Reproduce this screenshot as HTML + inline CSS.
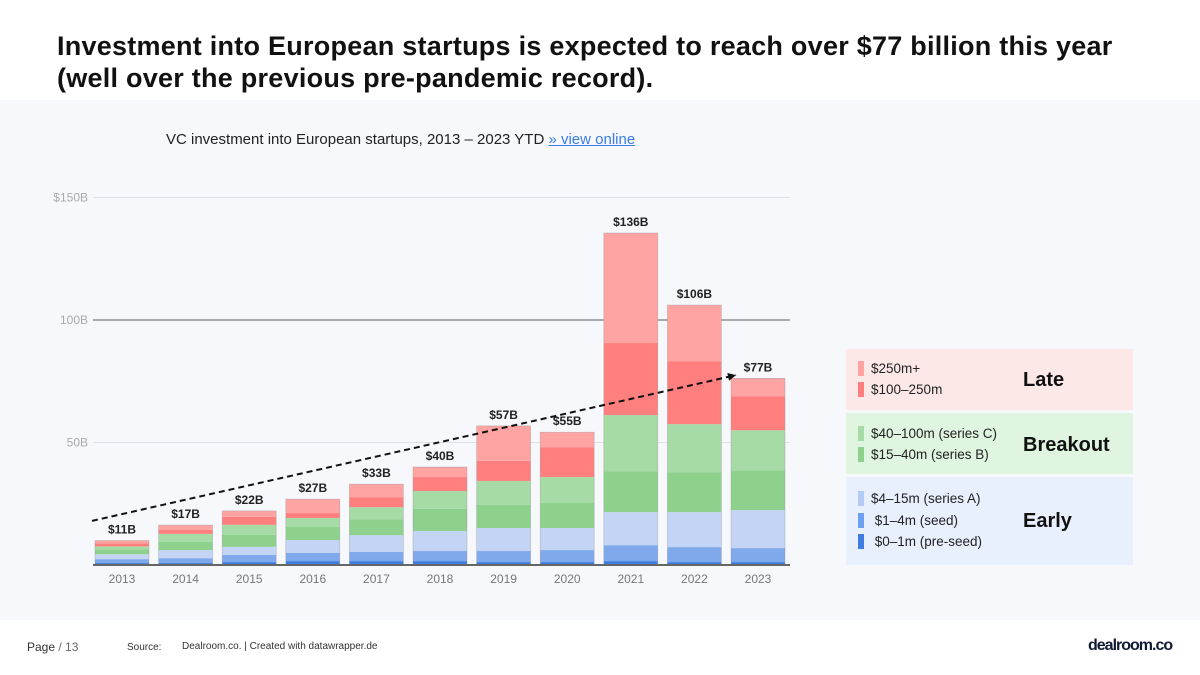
<!DOCTYPE html>
<html><head><meta charset="utf-8">
<style>
body{margin:0;width:1200px;height:675px;background:#fff;font-family:"Liberation Sans",sans-serif;position:relative;overflow:hidden}
.title{position:absolute;left:57px;top:30px;font-size:27px;font-weight:bold;color:#111;line-height:32px;letter-spacing:0.25px}
.bg{position:absolute;left:0;top:100px;width:1200px;height:520px;background:#f7f8fc}
.sub{position:absolute;left:166px;top:131px;font-size:15px;color:#222}
.sub a{color:#3a7de0;text-decoration:underline}
.leg{position:absolute;left:846px;width:287px}
.li{position:absolute;left:12px;font-size:13.5px;color:#222}
.sw{display:inline-block;width:6px;height:15px;vertical-align:-3px;margin-right:7px}
.grp{position:absolute;left:177px;font-size:20px;font-weight:bold;color:#111}
.foot{position:absolute;top:640px;font-size:12px;color:#333}
</style></head><body>
<div class="title">Investment into European startups is expected to reach over $77 billion this year<br>(well over the previous pre-pandemic record).</div>
<div class="bg"></div>
<div class="sub">VC investment into European startups, 2013 – 2023 YTD <a>» view online</a></div>
<svg id="chart" width="1200" height="675" style="position:absolute;left:0;top:0"></svg>
<div class="leg" style="top:349px;height:61px;background:#fde8e8">
 <div class="li" style="top:12px"><span class="sw" style="background:#ffa3a3"></span>$250m+</div>
 <div class="li" style="top:33px"><span class="sw" style="background:#ff7f7f"></span>$100–250m</div>
 <div class="grp" style="top:20px">Late</div></div>
<div class="leg" style="top:413px;height:61px;background:#dff5df">
 <div class="li" style="top:13px"><span class="sw" style="background:#a6dba6"></span>$40–100m (series C)</div>
 <div class="li" style="top:34px"><span class="sw" style="background:#8dd18d"></span>$15–40m (series B)</div>
 <div class="grp" style="top:21px">Breakout</div></div>
<div class="leg" style="top:477px;height:88px;background:#e9f0fd">
 <div class="li" style="top:14px"><span class="sw" style="background:#b3cbf5"></span>$4–15m (series A)</div>
 <div class="li" style="top:36px"><span class="sw" style="background:#6f9ff0"></span> $1–4m (seed)</div>
 <div class="li" style="top:57px"><span class="sw" style="background:#3f7ee0"></span> $0–1m (pre-seed)</div>
 <div class="grp" style="top:33px">Early</div></div>
<div class="foot" style="left:27px">Page <span style="color:#666">/ 13</span></div>
<div class="foot" style="left:127px;font-size:10px;top:642px">Source:</div>
<div class="foot" style="left:182px;font-size:10px;top:641px">Dealroom.co. | Created with datawrapper.de</div>
<div class="foot" style="left:1088px;top:637px;font-size:16px;font-weight:bold;color:#111a33;letter-spacing:-1px">dealroom.co</div>
<script>
const years=["2013","2014","2015","2016","2017","2018","2019","2020","2021","2022","2023"];
const preseed=[0.8,0.8,1.2,1.6,1.6,1.6,1.2,1.2,1.6,1.2,1.2];
const seed=[1.6,2.0,2.9,3.3,3.7,4.1,4.5,4.9,6.5,6.1,5.7];
const seriesA=[2.0,3.3,3.3,5.3,6.9,8.2,9.4,9.0,13.5,14.3,15.5];
const seriesB=[2.0,3.3,4.9,5.3,6.5,9.0,9.4,10.2,16.7,16.3,16.3];
const seriesC=[1.2,3.3,4.1,3.7,4.9,7.3,9.8,10.6,22.9,19.6,16.3];
const late100=[1.2,1.6,3.3,2.0,4.1,5.7,8.2,12.2,29.4,25.7,13.9];
const late250=[1.2,2.0,2.4,5.7,5.3,4.1,14.3,6.1,44.9,22.9,7.3];
const totalLabels=["$11B","$17B","$22B","$27B","$33B","$40B","$57B","$55B","$136B","$106B","$77B"];
const yTicks=[50,100,150];
const yTickLabels=["50B","100B","$150B"];
const trendStart=[0,18];const trendEnd=[10,77.5];
const series=[preseed,seed,seriesA,seriesB,seriesC,late100,late250];
const names=["pre-seed","seed","series-a","series-b","series-c","late-100-250m","late-250m-plus"];
const colors=["#3f7ee0","#80a9ec","#c4d4f5","#8dd18d","#a6dba6","#ff7f7f","#ffa3a3"];
const NS="http://www.w3.org/2000/svg",svg=document.getElementById("chart");
const x0=93,step=63.6,bw=54,base=565,k=2.45;
const y=v=>base-v*k, xc=i=>x0+2+bw/2+i*step;
function mk(t,a){const e=document.createElementNS(NS,t);for(const n in a)e.setAttribute(n,a[n]);svg.appendChild(e);return e;}
yTicks.forEach((t,i)=>{const g=mk("line",{x1:x0,x2:790,y1:y(t),y2:y(t),stroke:t==100?"#aaa":"#dde0e6","stroke-width":t==100?2:1});

const l=mk("text",{x:88,y:y(t)+4,"text-anchor":"end","font-size":12,fill:"#aaa","font-family":"Liberation Sans"});l.textContent=yTickLabels[i];
});
years.forEach((yr,i)=>{let acc=0;const left=xc(i)-bw/2;
series.forEach((s,j)=>{const r=mk("rect",{x:left,y:y(acc+s[i]),width:bw,height:s[i]*k,fill:colors[j]});
acc+=s[i];});
const o=mk("rect",{x:left,y:y(acc),width:bw,height:acc*k,fill:"none",stroke:"#999","stroke-width":0.6,"stroke-opacity":0.6});

const t=mk("text",{x:xc(i),y:y(acc)-7,"text-anchor":"middle","font-size":12,"font-weight":"bold",fill:"#222","font-family":"Liberation Sans"});t.textContent=totalLabels[i];

const xl=mk("text",{x:xc(i),y:583,"text-anchor":"middle","font-size":12,fill:"#777","font-family":"Liberation Sans"});xl.textContent=yr;
});
const ax=mk("line",{x1:x0,x2:790,y1:base,y2:base,stroke:"#666","stroke-width":2});

const tx1=xc(trendStart[0])-30,ty1=y(trendStart[1]),tx2=xc(trendEnd[0])-22,ty2=y(trendEnd[1]);
const tl=mk("line",{x1:tx1,y1:ty1,x2:tx2,y2:ty2,stroke:"#111","stroke-width":2,"stroke-dasharray":"6 4"});

const ang=Math.atan2(ty2-ty1,tx2-tx1);
const ah=mk("polygon",{points:`${tx2},${ty2} ${tx2-8*Math.cos(ang)+4*Math.sin(ang)},${ty2-8*Math.sin(ang)-4*Math.cos(ang)} ${tx2-8*Math.cos(ang)-4*Math.sin(ang)},${ty2-8*Math.sin(ang)+4*Math.cos(ang)}`,fill:"#111"});

</script>
</body></html>
